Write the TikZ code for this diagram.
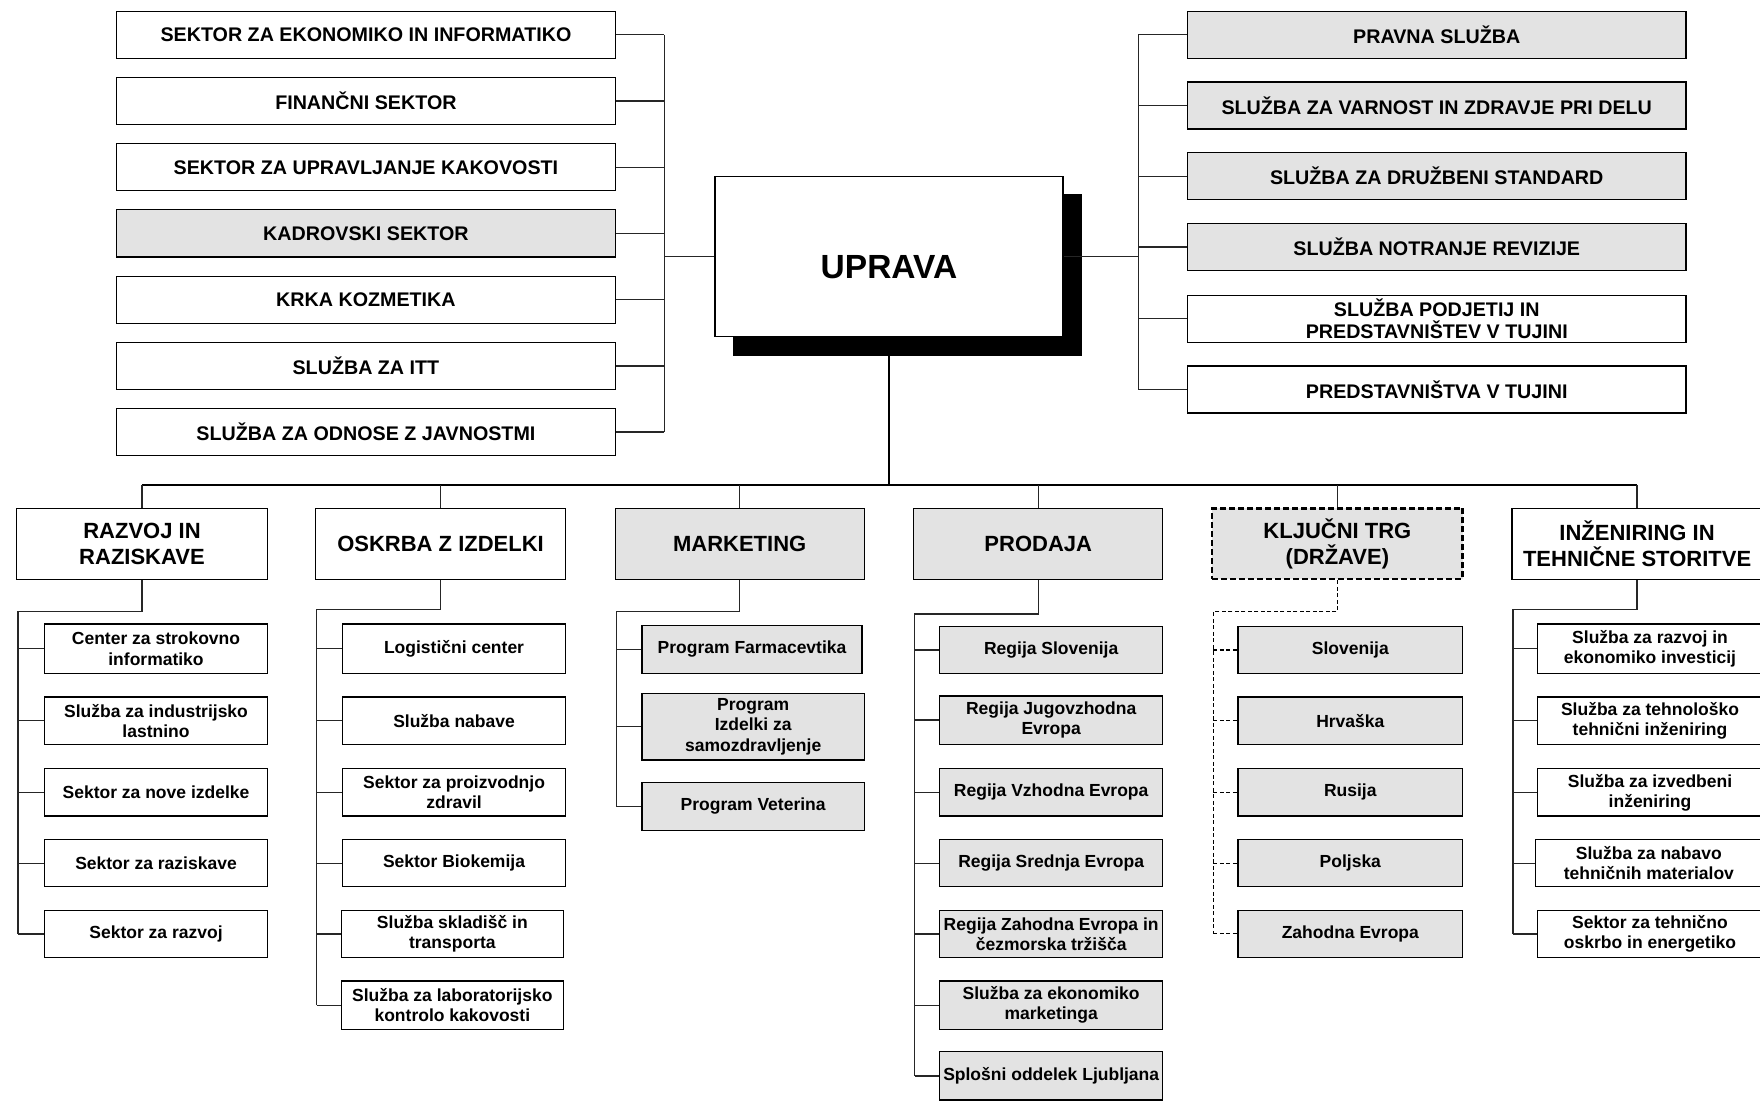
\documentclass[tikz,border=0pt]{standalone}
\usepackage{fontspec}
\setmainfont{Liberation Sans}
\tikzset{
  base/.style={draw=black, line width=1.2pt, fill=white, inner sep=0pt, align=center},
  topbox/.style={base, font=\bfseries\fontsize{19.7}{22.6}\selectfont},
  lvbox/.style={base, font=\bfseries\fontsize{22}{25.3}\selectfont},
  subbox/.style={base, font=\bfseries\fontsize{17.5}{20.1}\selectfont},
  bigbox/.style={base, line width=1.4pt, font=\bfseries\fontsize{33.5}{38}\selectfont},
  grayfill/.style={fill=black!11},
  dashbox/.style={dash pattern=on 6pt off 3pt, line width=2.2pt},
  conn/.style={draw=black!85, line width=1.3pt},
  mainconn/.style={draw=black, line width=2pt},
  dconn/.style={draw=black, line width=1.2pt, dash pattern=on 4pt off 2.5pt},
}
\newcommand\orgbox[7]{\node[#6, minimum width={(#4-#2)*1.12245pt}, minimum height={(#5-#3)*1.12245pt}] (#1) at ({(#2+#4)/2},{(#3+#5)/2}) {#7};}
\begin{document}
\begin{tikzpicture}[x=1.12245pt, y=-1.12245pt]
\useasboundingbox (0,0) rectangle (1568,981);
\fill[white] (0,0) rectangle (1568,981);

% helper coordinates
\coordinate (lbus) at (592,0);
\coordinate (rbus) at (1014,0);
\coordinate (mbus) at (0,432);

% UPRAVA with shadow
\fill[black] (653,173) rectangle (964,317);
\orgbox{U}{637}{157}{947}{300}{bigbox}{\raisebox{-11pt}[\height][\depth]{UPRAVA}}

% Left column
\orgbox{L1}{104}{10}{548}{52}{topbox}{SEKTOR ZA EKONOMIKO IN INFORMATIKO}
\orgbox{L2}{104}{69}{548}{111}{topbox}{FINANČNI SEKTOR}
\orgbox{L3}{104}{128}{548}{170}{topbox}{SEKTOR ZA UPRAVLJANJE KAKOVOSTI}
\orgbox{L4}{104}{187}{548}{229}{topbox,grayfill}{KADROVSKI SEKTOR}
\orgbox{L5}{104}{246}{548}{288}{topbox}{KRKA KOZMETIKA}
\orgbox{L6}{104}{305}{548}{347}{topbox}{SLUŽBA ZA ITT}
\orgbox{L7}{104}{364}{548}{406}{topbox}{SLUŽBA ZA ODNOSE Z JAVNOSTMI}

% Right column
\orgbox{R1}{1058}{10}{1502}{52}{topbox,grayfill}{PRAVNA SLUŽBA}
\orgbox{R2}{1058}{73}{1502}{115}{topbox,grayfill}{SLUŽBA ZA VARNOST IN ZDRAVJE PRI DELU}
\orgbox{R3}{1058}{136}{1502}{178}{topbox,grayfill}{SLUŽBA ZA DRUŽBENI STANDARD}
\orgbox{R4}{1058}{199}{1502}{241}{topbox,grayfill}{SLUŽBA NOTRANJE REVIZIJE}
\orgbox{R5}{1058}{263}{1502}{305}{topbox}{SLUŽBA PODJETIJ IN\\PREDSTAVNIŠTEV V TUJINI}
\orgbox{R6}{1058}{326}{1502}{368}{topbox}{PREDSTAVNIŠTVA V TUJINI}

% Level 2
\orgbox{A}{15}{453}{238}{516}{lvbox}{RAZVOJ IN\\RAZISKAVE}
\orgbox{B}{281}{453}{504}{516}{lvbox}{OSKRBA Z IZDELKI}
\orgbox{C}{548}{453}{770}{516}{lvbox,grayfill}{MARKETING}
\orgbox{D}{814}{453}{1036}{516}{lvbox,grayfill}{PRODAJA}
\orgbox{E}{1080}{453}{1303}{516}{lvbox,grayfill,dashbox}{KLJUČNI TRG\\(DRŽAVE)}
\orgbox{F}{1347}{453}{1570}{516}{lvbox}{INŽENIRING IN\\TEHNIČNE STORITVE}

% Level 3 - A
\orgbox{A1}{40}{556}{238}{600}{subbox}{Center za strokovno\\informatiko}
\orgbox{A2}{40}{621}{238}{663}{subbox}{Služba za industrijsko\\lastnino}
\orgbox{A3}{40}{685}{238}{727}{subbox}{Sektor za nove izdelke}
\orgbox{A4}{40}{748}{238}{790}{subbox}{Sektor za raziskave}
\orgbox{A5}{40}{811}{238}{853}{subbox}{Sektor za razvoj}
% B
\orgbox{B1}{305}{556}{504}{600}{subbox}{Logistični center}
\orgbox{B2}{305}{621}{504}{663}{subbox}{Služba nabave}
\orgbox{B3}{305}{685}{504}{727}{subbox}{Sektor za proizvodnjo\\zdravil}
\orgbox{B4}{305}{748}{504}{790}{subbox}{Sektor Biokemija}
\orgbox{B5}{304}{811}{502}{853}{subbox}{Služba skladišč in\\transporta}
\orgbox{B6}{304}{874}{502}{917}{subbox}{Služba za laboratorijsko\\kontrolo kakovosti}
% C
\orgbox{C1}{572}{557}{768}{600}{subbox,grayfill}{Program Farmacevtika}
\orgbox{C2}{572}{618}{770}{677}{subbox,grayfill}{Program\\Izdelki za\\samozdravljenje}
\orgbox{C3}{572}{697}{770}{740}{subbox,grayfill}{Program Veterina}
% D
\orgbox{D1}{837}{558}{1036}{600}{subbox,grayfill}{Regija Slovenija}
\orgbox{D2}{837}{620}{1036}{663}{subbox,grayfill}{Regija Jugovzhodna\\Evropa}
\orgbox{D3}{837}{685}{1036}{727}{subbox,grayfill}{Regija Vzhodna Evropa}
\orgbox{D4}{837}{748}{1036}{790}{subbox,grayfill}{Regija Srednja Evropa}
\orgbox{D5}{837}{811}{1036}{853}{subbox,grayfill}{Regija Zahodna Evropa in\\čezmorska tržišča}
\orgbox{D6}{837}{874}{1036}{917}{subbox,grayfill}{Služba za ekonomiko\\marketinga}
\orgbox{D7}{837}{937}{1036}{980}{subbox,grayfill}{Splošni oddelek Ljubljana}
% E
\orgbox{E1}{1103}{558}{1303}{600}{subbox,grayfill}{Slovenija}
\orgbox{E2}{1103}{621}{1303}{663}{subbox,grayfill}{Hrvaška}
\orgbox{E3}{1103}{685}{1303}{727}{subbox,grayfill}{Rusija}
\orgbox{E4}{1103}{748}{1303}{790}{subbox,grayfill}{Poljska}
\orgbox{E5}{1103}{811}{1303}{853}{subbox,grayfill}{Zahodna Evropa}
% F
\orgbox{F1}{1370}{556}{1570}{600}{subbox}{Služba za razvoj in\\ekonomiko investicij}
\orgbox{F2}{1370}{621}{1570}{663}{subbox}{Služba za tehnološko\\tehnični inženiring}
\orgbox{F3}{1370}{685}{1570}{727}{subbox}{Služba za izvedbeni\\inženiring}
\orgbox{F4}{1368}{748}{1570}{790}{subbox}{Služba za nabavo\\tehničnih materialov}
\orgbox{F5}{1370}{811}{1570}{853}{subbox}{Sektor za tehnično\\oskrbo in energetiko}

% Connectors: left column
\foreach \n in {L1,L2,L3,L4,L5,L6,L7} \draw[conn] (\n.east) -- (\n.east -| lbus);
\draw[conn] (L1.east -| lbus) -- (L7.east -| lbus);
\draw[conn] (U.west -| lbus) -- (U.west);
% right column
\foreach \n in {R1,R2,R3,R4,R5,R6} \draw[conn] (\n.west) -- (\n.west -| rbus);
\draw[conn] (R1.west -| rbus) -- (R6.west -| rbus);
\draw[conn] (U.east) -- (U.east -| rbus);
% main down
\draw[mainconn] (U.south) -- (U.south |- mbus);
\draw[mainconn] (A.north |- mbus) -- (F.north |- mbus);
\foreach \n in {A,B,C,D,E,F} \draw[conn] (\n.north |- mbus) -- (\n.north);

% level 3 trees
\coordinate (Ae) at (16,545);
\draw[conn] (A.south) |- (Ae) -- (Ae |- A5.west);
\foreach \n in {A1,A2,A3,A4,A5} \draw[conn] (Ae |- \n.west) -- (\n.west);
\coordinate (Be) at (282,543);
\draw[conn] (B.south) |- (Be) -- (Be |- B6.west);
\foreach \n in {B1,B2,B3,B4,B5,B6} \draw[conn] (Be |- \n.west) -- (\n.west);
\coordinate (Ce) at (549,545);
\draw[conn] (C.south) |- (Ce) -- (Ce |- C3.west);
\foreach \n in {C1,C2,C3} \draw[conn] (Ce |- \n.west) -- (\n.west);
\coordinate (De) at (815,547);
\draw[conn] (D.south) |- (De) -- (De |- D7.west);
\foreach \n in {D1,D2,D3,D4,D5,D6,D7} \draw[conn] (De |- \n.west) -- (\n.west);
\coordinate (Ee) at (1081,545);
\draw[dconn] (E.south) |- (Ee) -- (Ee |- E5.west);
\foreach \n in {E1,E2,E3,E4,E5} \draw[dconn] (Ee |- \n.west) -- (\n.west);
\coordinate (Fe) at (1348,543);
\draw[conn] (F.south) |- (Fe) -- (Fe |- F5.west);
\foreach \n in {F1,F2,F3,F4,F5} \draw[conn] (Fe |- \n.west) -- (\n.west);
\end{tikzpicture}
\end{document}
